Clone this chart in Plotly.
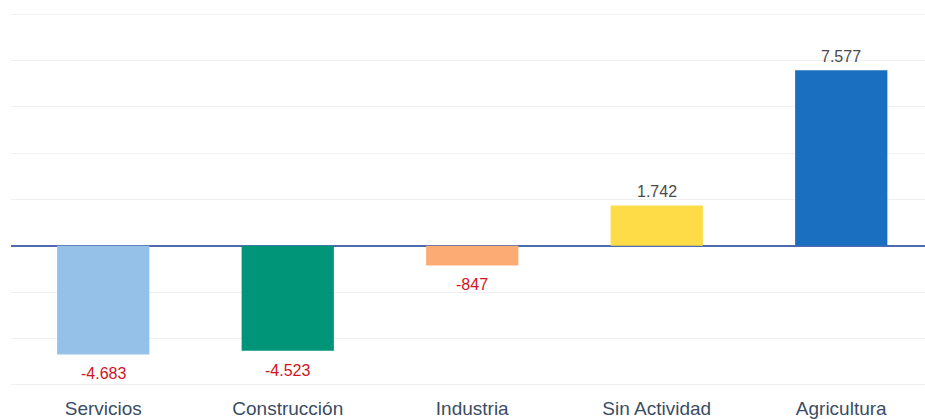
import plotly.graph_objects as go

categories = ["Servicios", "Construcción", "Industria", "Sin Actividad", "Agricultura"]
values = [-4683, -4523, -847, 1742, 7577]
colors = ["#95c1e8", "#009479", "#fdab74", "#fedc47", "#1a6fc0"]

fig = go.Figure(go.Bar(
    x=categories, y=values,
    marker=dict(color=colors, line=dict(width=0)),
    width=0.5,
    hoverinfo="x+y",
))

for cat, v in zip(categories, values):
    neg = v < 0
    fig.add_annotation(
        x=cat, y=v, text=f"{v:,}".replace(",", "."), showarrow=False,
        yanchor="top" if neg else "bottom", yshift=-9 if neg else 3,
        font=dict(family="Liberation Sans, Arial, sans-serif", size=16,
                  color="#d0141e" if neg else "#4a4a4a"),
    )

fig.update_layout(
    width=925, height=419,
    margin=dict(l=11, r=0, t=12, b=32),
    plot_bgcolor="white", paper_bgcolor="white",
    separators=",.",
    showlegend=False,
    xaxis=dict(range=[-0.5, 4.454], showgrid=False, ticks="", showline=False, automargin=False,
               tickfont=dict(family="Liberation Sans, Arial, sans-serif", size=19, color="#3a4d63"),
               ticklabelstandoff=8),
    yaxis=dict(range=[-6090, 10090], dtick=2000, showticklabels=False, ticks="", automargin=False,
               showgrid=True, gridcolor="#f0f0f0", gridwidth=1,
               zeroline=True, zerolinecolor="#4f6bb0", zerolinewidth=1.5, showline=False),
)

fig.write_html("out.html", config={"displayModeBar": False},
               post_script="document.body.style.margin='0';document.body.style.overflow='hidden';")
